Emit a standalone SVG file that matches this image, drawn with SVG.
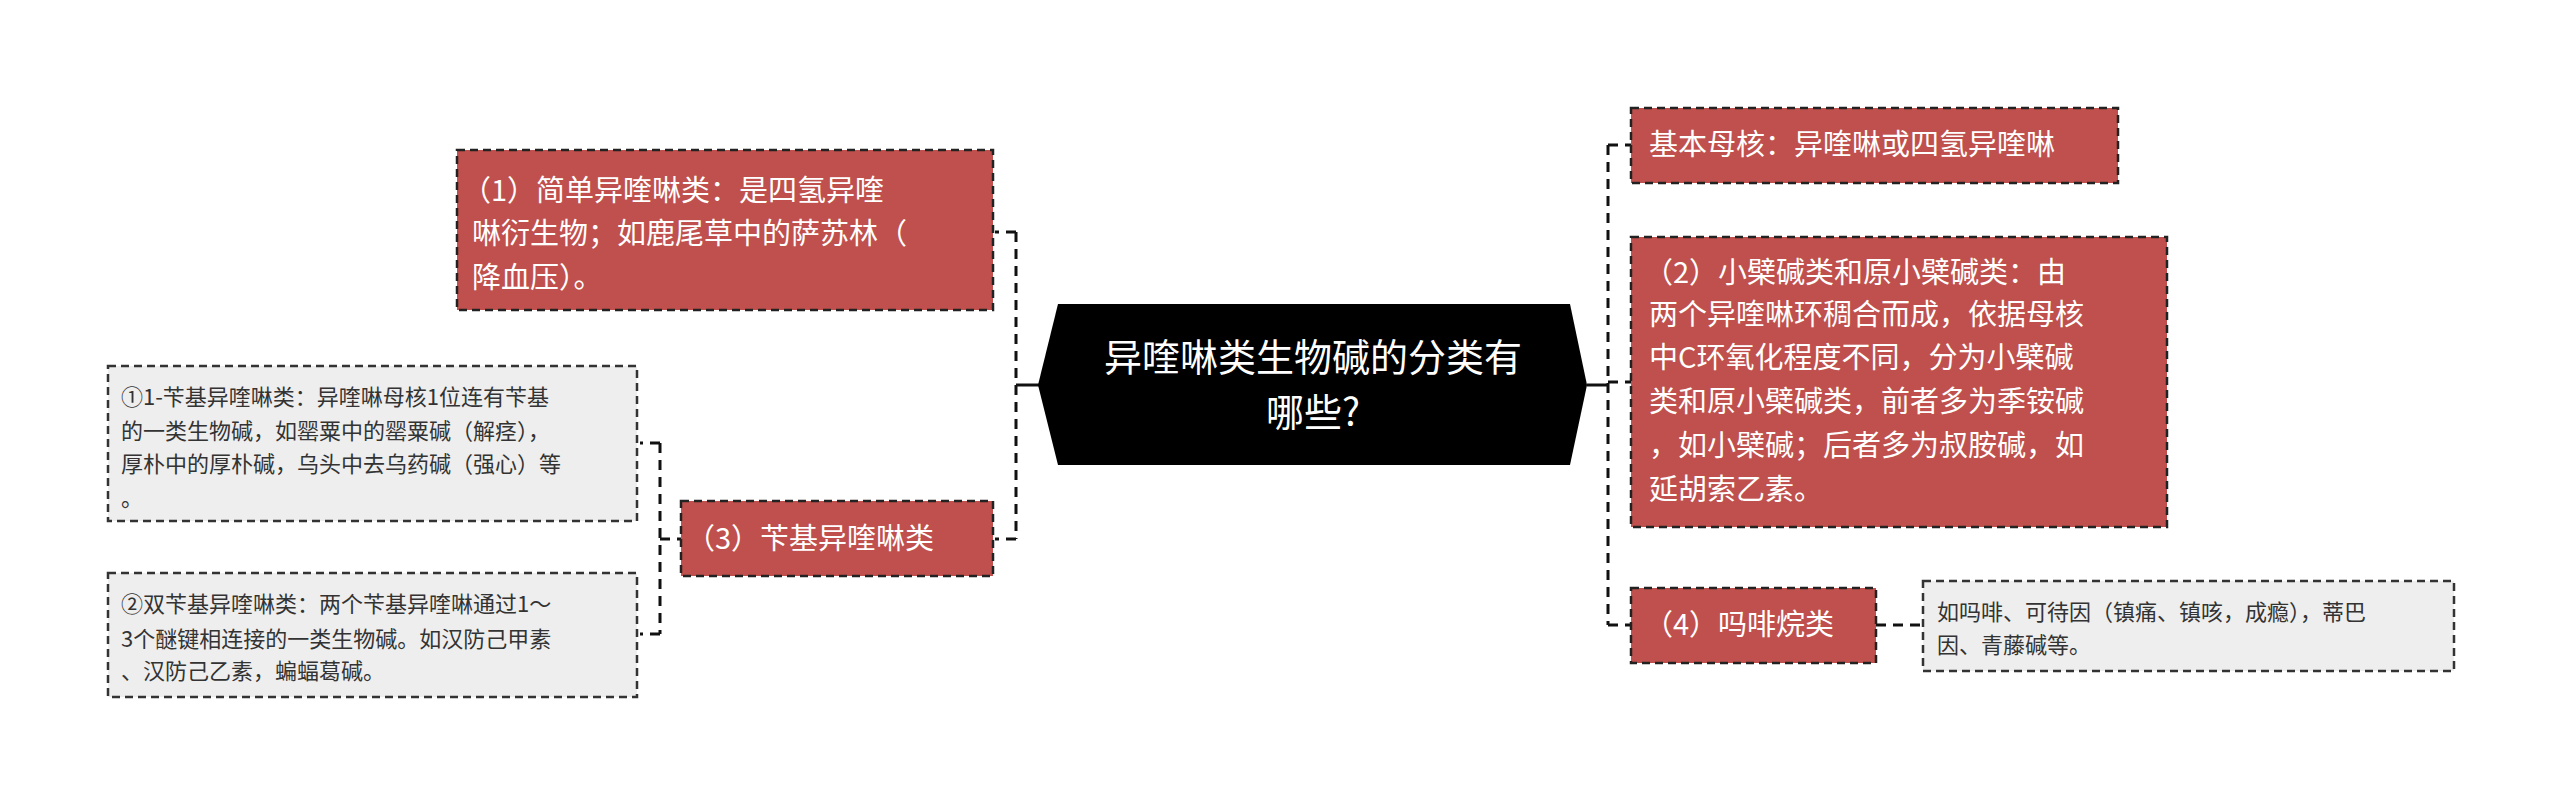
<svg xmlns="http://www.w3.org/2000/svg" width="2560" height="805" viewBox="0 0 2560 805">
<style>
.r{fill:#c0504d;stroke:#222;stroke-width:2.5;stroke-dasharray:8,5}
.g{fill:#eeeeee;stroke:#333;stroke-width:2.5;stroke-dasharray:8,5}
.c{fill:none;stroke:#111;stroke-width:3;stroke-dasharray:10,7}
text{font-family:"Noto Sans CJK SC","Liberation Sans",sans-serif}
.w{fill:#fff;font-size:29px}
.k{fill:#333;font-size:22px}
</style>
<rect width="2560" height="805" fill="#fff"/>
<g id="connectors">
<path class="c" d="M1016,232 H995 M1016,232 V539 M1016,539 H995"/>
<path d="M1016,385 H1040" stroke="#111" stroke-width="3"/>
<path class="c" d="M660,443 H640 M660,443 V634 M660,634 H640 M660,539 H681"/>
<path class="c" d="M1608,145 H1631 M1608,145 V625 M1608,625 H1631 M1608,382 H1631"/>
<path d="M1587,385 H1608" stroke="#111" stroke-width="3"/>
<path class="c" d="M1876,625 H1923"/>
</g>
<g id="center">
<polygon points="1058,304 1570,304 1587,385 1570,465 1058,465 1038,385" fill="#000"/>
<text x="1313" y="371" fill="#fff" font-size="38" text-anchor="middle">异喹啉类生物碱的分类有</text>
<text x="1313" y="426" fill="#fff" font-size="38" text-anchor="middle">哪些?</text>
</g>
<g id="n1">
<rect class="r" x="457" y="150" width="536" height="160"/>
<text class="w" x="462" y="201">（1）简单异喹啉类：是四氢异喹</text>
<text class="w" x="472" y="244">啉衍生物；如鹿尾草中的萨苏林（</text>
<text class="w" x="472" y="288">降血压）。</text>
</g>
<g id="n3">
<rect class="r" x="681" y="501" width="312" height="75"/>
<text class="w" x="686" y="549">（3）苄基异喹啉类</text>
</g>
<g id="s1">
<rect class="g" x="108" y="366" width="529" height="155"/>
<text class="k" x="121" y="405">①1-苄基异喹啉类：异喹啉母核1位连有苄基</text>
<text class="k" x="121" y="439">的一类生物碱，如罂粟中的罂粟碱（解痉），</text>
<text class="k" x="121" y="472">厚朴中的厚朴碱，乌头中去乌药碱（强心）等</text>
<text class="k" x="121" y="506">。</text>
</g>
<g id="s2">
<rect class="g" x="108" y="573" width="529" height="124"/>
<text class="k" x="121" y="612">②双苄基异喹啉类：两个苄基异喹啉通过1～</text>
<text class="k" x="121" y="647">3个醚键相连接的一类生物碱。如汉防己甲素</text>
<text class="k" x="121" y="679">、汉防己乙素，蝙蝠葛碱。</text>
</g>
<g id="n0">
<rect class="r" x="1631" y="108" width="487" height="75"/>
<text class="w" x="1649" y="155">基本母核：异喹啉或四氢异喹啉</text>
</g>
<g id="n2">
<rect class="r" x="1631" y="237" width="536" height="290"/>
<text class="w" x="1644" y="283">（2）小檗碱类和原小檗碱类：由</text>
<text class="w" x="1649" y="325">两个异喹啉环稠合而成，依据母核</text>
<text class="w" x="1649" y="368">中C环氧化程度不同，分为小檗碱</text>
<text class="w" x="1649" y="412">类和原小檗碱类，前者多为季铵碱</text>
<text class="w" x="1649" y="456">，如小檗碱；后者多为叔胺碱，如</text>
<text class="w" x="1649" y="500">延胡索乙素。</text>
</g>
<g id="n4">
<rect class="r" x="1631" y="588" width="245" height="75"/>
<text class="w" x="1644" y="635">（4）吗啡烷类</text>
</g>
<g id="s4">
<rect class="g" x="1923" y="581" width="531" height="90"/>
<text class="k" x="1937" y="620">如吗啡、可待因（镇痛、镇咳，成瘾），蒂巴</text>
<text class="k" x="1937" y="653">因、青藤碱等。</text>
</g>
</svg>
